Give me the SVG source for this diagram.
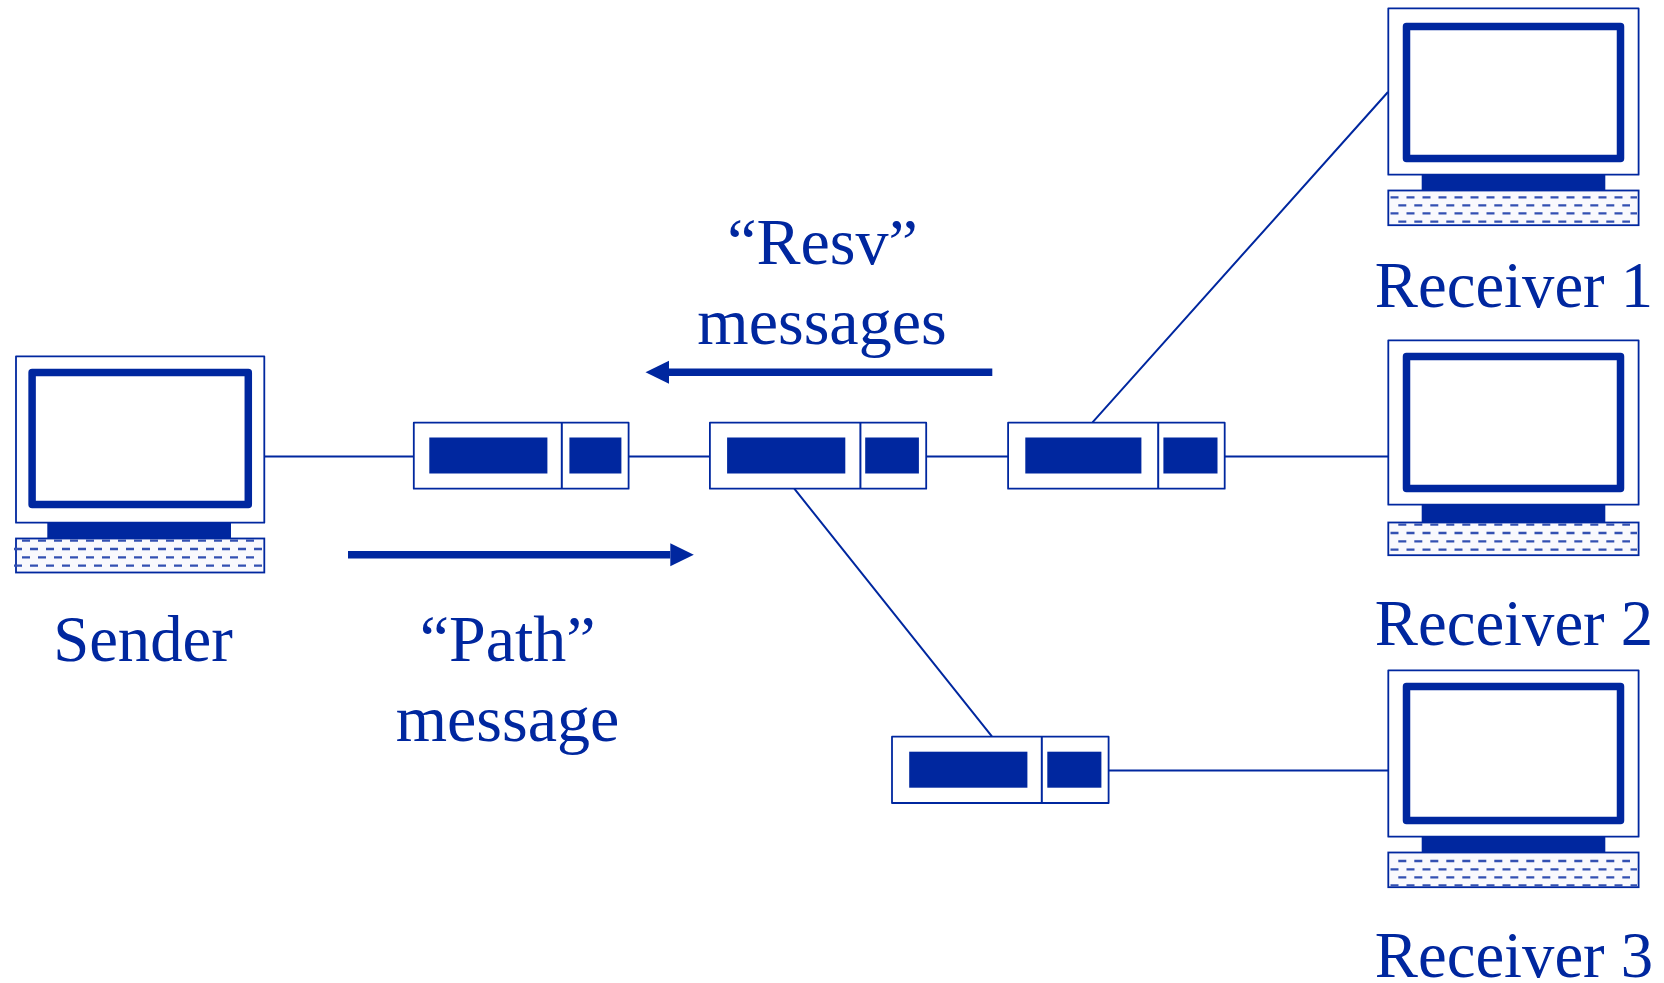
<svg xmlns="http://www.w3.org/2000/svg" width="1664" height="983" viewBox="0 0 1664 983">
<style>
text{font-family:"Liberation Serif","Times New Roman",serif;font-size:64.700px;fill:#00279f;text-anchor:middle}
text.l{font-size:66px}
.o{fill:#fff;stroke:#00279f;stroke-width:1.800;stroke-linejoin:round}
.s{fill:#fff;stroke:#00279f;stroke-width:7.5;stroke-linejoin:round}
.f{fill:#00279f;stroke:none}
.k{fill:#f9f9fd;stroke:#00279f;stroke-width:1.800}
.d{stroke:#3350b2;stroke-width:2.300;stroke-dasharray:8 8;fill:none}
.c{stroke:#00279f;stroke-width:2;fill:none}
.a{stroke:#00279f;stroke-width:7.5;fill:none}
</style>
<defs>
<marker id="h" markerUnits="userSpaceOnUse" markerWidth="24" markerHeight="24" refX="0" refY="12" orient="auto"><path d="M0 .5L23.500 12L0 23.500Z" fill="#00279f"/></marker>
</defs>
<rect width="1664" height="983" fill="#fff"/>
<g id="connectors">
<path class="c" d="M264 456.500H413.800M628.600 456.500H709.900M926.200 456.500H1008.100M1224.700 456.500H1388M1108.600 770.500H1388M794.300 488.700L991.900 736.300M1092.500 422.300L1388 92"/>
<line class="a" x1="348" y1="554.700" x2="670.300" y2="554.700" marker-end="url(#h)"/>
<line class="a" x1="992.300" y1="372.300" x2="669" y2="372.300" marker-end="url(#h)"/>
</g>
<g id="sender">
<rect class="k" x="16" y="538.500" width="248.300" height="34"/>
<path class="d" d="M22 540.700H258M22 557.300H258"/>
<path class="d" d="M14 549H263.500M14 565.700H263.500"/>
<rect class="f" x="47.300" y="521" width="183.700" height="18"/>
<rect class="o" x="16" y="356.300" width="248.300" height="166.400"/>
<rect class="s" x="32.100" y="372.500" width="216.200" height="132"/>
<text x="143" y="660.700">Sender</text>
</g>
<g id="receiver1">
<rect class="k" x="1388.300" y="190.500" width="250.300" height="34.700"/>
<path class="d" d="M1390.500 197.300H1637M1390.500 213.300H1637"/>
<path class="d" d="M1398.300 205.300H1630M1398.300 221.700H1630"/>
<rect class="f" x="1421.700" y="173.500" width="183.600" height="17.500"/>
<rect class="o" x="1388.300" y="8.300" width="250.300" height="166.400"/>
<rect class="s" x="1406.500" y="26.400" width="214" height="132.100"/>
<text x="1514" y="307">Receiver 1</text>
</g>
<g id="receiver2">
<rect class="k" x="1388.300" y="522.500" width="250.300" height="32.700"/>
<path class="d" d="M1398.300 524.700H1630M1398.300 541.300H1630"/>
<path class="d" d="M1390.500 533H1637M1390.500 549.700H1637"/>
<rect class="f" x="1421.700" y="503.500" width="183.600" height="19.500"/>
<rect class="o" x="1388.300" y="340.300" width="250.300" height="164.400"/>
<rect class="s" x="1406.500" y="356.500" width="214" height="132"/>
<text x="1514" y="645">Receiver 2</text>
</g>
<g id="receiver3">
<rect class="k" x="1388.300" y="852.500" width="250.300" height="34.700"/>
<path class="d" d="M1398.300 861H1630M1398.300 877.300H1630"/>
<path class="d" d="M1390.500 869.300H1637M1390.500 885.300H1637"/>
<rect class="f" x="1421.700" y="835.500" width="183.600" height="17.500"/>
<rect class="o" x="1388.300" y="670.300" width="250.300" height="166.400"/>
<rect class="s" x="1406.500" y="686.500" width="214" height="134"/>
<text x="1514" y="976.700">Receiver 3</text>
</g>
<g id="router1">
<rect class="o" x="413.800" y="422.700" width="214.800" height="66"/><path class="c" d="M561.800 422.700V488.700"/>
<rect class="f" x="429.300" y="437.500" width="118.100" height="36"/><rect class="f" x="569.400" y="437.500" width="52" height="36"/>
</g>
<g id="router2">
<rect class="o" x="709.900" y="422.700" width="216.300" height="66"/><path class="c" d="M860.400 422.700V488.700"/>
<rect class="f" x="727.100" y="437.500" width="118.200" height="36"/><rect class="f" x="865.200" y="437.500" width="53.700" height="36"/>
</g>
<g id="router3">
<rect class="o" x="1008.100" y="422.700" width="216.600" height="66"/><path class="c" d="M1158.200 422.700V488.700"/>
<rect class="f" x="1025.300" y="437.500" width="116.100" height="36"/><rect class="f" x="1163.400" y="437.500" width="54.100" height="36"/>
</g>
<g id="router4">
<rect class="o" x="892" y="736.700" width="216.600" height="66.300"/><path class="c" d="M1041.800 736.700V803"/>
<rect class="f" x="909.200" y="751.700" width="118.200" height="36"/><rect class="f" x="1047.300" y="751.700" width="54.100" height="36"/>
</g>
<g id="labels">
<text class="l" x="822.500" y="264">“Resv”</text>
<text class="l" x="822" y="344.300">messages</text>
<text class="l" x="507.700" y="660.700">“Path”</text>
<text class="l" x="507.500" y="740.700">message</text>
</g>
</svg>
